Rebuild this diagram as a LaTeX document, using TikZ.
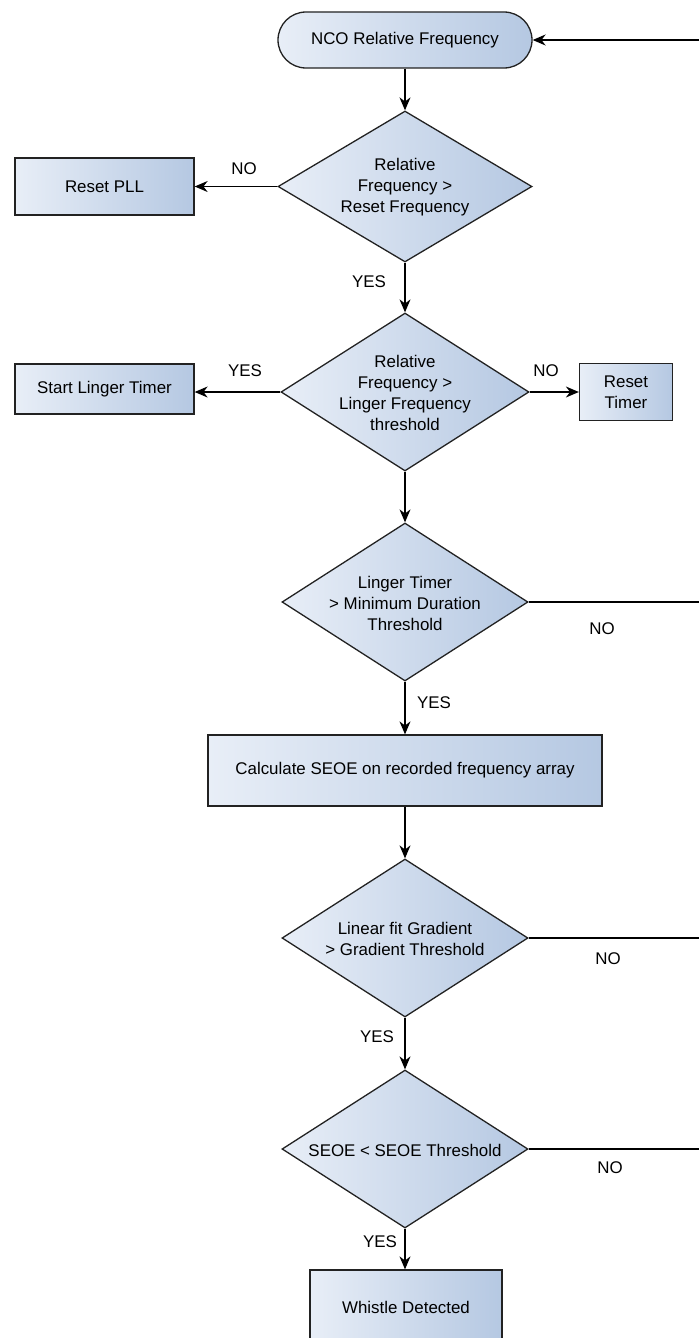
\documentclass[tikz,border=0pt]{standalone}
\usepackage{fontspec}
\setmainfont{Liberation Sans}
\usetikzlibrary{shapes.geometric,arrows.meta}
\definecolor{fillL}{HTML}{E8EEF7}
\definecolor{fillR}{HTML}{B5C8E2}
\definecolor{edge}{HTML}{222222}
\begin{document}
\begin{tikzpicture}[x=1pt,y=-1pt,
  font=\fontsize{16.9}{21}\selectfont,
  shapebase/.style={draw=edge, line width=1.3pt, left color=fillL, right color=fillR, inner sep=0pt},
  box/.style={shapebase, rectangle, align=center},
  dec/.style={shapebase, diamond, minimum width=246pt, minimum height=158pt},
  txt/.style={align=center, inner sep=0pt},
  flow/.style={draw=black, line width=1.3pt, -{Stealth[length=13pt,width=11pt]}},
  link/.style={draw=black, line width=1.3pt},
  lbl/.style={inner sep=0pt}]
\useasboundingbox (0,0) rectangle (699,1338);
\clip (0,0) rectangle (699,1338);

% start terminator
\node[shapebase, rectangle, rounded corners=28pt, minimum width=254pt, minimum height=56pt] (nco) at (405,40) {NCO Relative Frequency};

% decision 1
\node[dec, minimum width=254pt, minimum height=151pt] (d1) at (405,186.5) {};
\node[txt] (t1) at (405,187) {Relative\\Frequency >\\Reset Frequency};
\node[box, minimum width=179pt, minimum height=57pt] (pll) at (104.5,186.5) {Reset PLL};

% decision 2
\node[dec, minimum width=248pt, minimum height=158pt] (d2) at (405,392) {};
\node[txt] (t2) at (405,393) {Relative\\Frequency >\\Linger Frequency\\threshold};
\node[box, minimum width=179pt, minimum height=50pt] (sl) at (104.5,389) {Start Linger Timer};
\node[box, minimum width=93pt, minimum height=57pt] (rt) at (626,392) {Reset\\Timer};

% decision 3
\node[dec] (d3) at (405,602) {};
\node[txt] (t3) at (405,603) {Linger Timer\\> Minimum Duration\\Threshold};

% SEOE calculation
\node[box, minimum width=394pt, minimum height=71pt] (calc) at (405,770.5) {Calculate SEOE on recorded frequency array};

% decision 4
\node[dec] (d4) at (405,938) {};
\node[txt] (t4) at (405,939) {Linear fit Gradient\\> Gradient Threshold};

% decision 5
\node[dec] (d5) at (405,1149) {};
\node[txt] (t5) at (405,1150) {SEOE < SEOE Threshold};

% end box
\node[box, minimum width=192pt, minimum height=74pt] (wd) at (406,1307) {Whistle Detected};

% loop-back end points at the right margin
\coordinate (r0) at (699,40);
\coordinate (r3) at (699,602);
\coordinate (r4) at (699,938);
\coordinate (r5) at (699,1149);

% connectors
\draw[flow] (r0) -- (nco.east);
\draw[flow] (nco.south) -- (d1.north);
\draw[flow] (d1.west) -- (pll.east);
\draw[flow] (d1.south) -- (d2.north);
\draw[flow] (d2.west) -- (sl.east |- d2.west);
\draw[flow] (d2.east) -- (rt.west);
\draw[flow] (d2.south) -- (d3.north);
\draw[link] (d3.east) -- (r3);
\draw[flow] (d3.south) -- (calc.north);
\draw[flow] (calc.south) -- (d4.north);
\draw[link] (d4.east) -- (r4);
\draw[flow] (d4.south) -- (d5.north);
\draw[link] (d5.east) -- (r5);
\draw[flow] (d5.south) -- (wd.north -| d5.south);

% branch labels
\node[lbl] (n1) at (244,169) {NO};
\node[lbl] (y1) at (369,282) {YES};
\node[lbl] (y2) at (245,371) {YES};
\node[lbl] (n2) at (546,371) {NO};
\node[lbl] (n3) at (602,629) {NO};
\node[lbl] (y3) at (434,703) {YES};
\node[lbl] (n4) at (608,959) {NO};
\node[lbl] (y4) at (377,1037) {YES};
\node[lbl] (n5) at (610,1168) {NO};
\node[lbl] (y5) at (380,1242) {YES};
\end{tikzpicture}
\end{document}
